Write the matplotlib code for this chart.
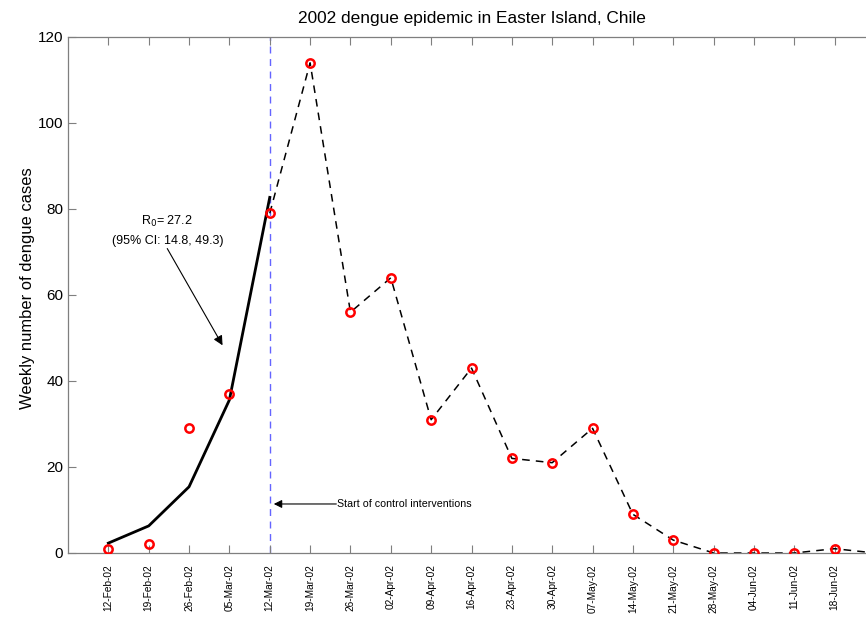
import matplotlib
matplotlib.use("Agg")
import matplotlib.pyplot as plt

plt.rcParams['font.family'] = ['Liberation Sans', 'DejaVu Sans']

# Weekly reporting dates (week starting)
weeks = ["12-Feb-02", "19-Feb-02", "26-Feb-02", "05-Mar-02", "12-Mar-02",
         "19-Mar-02", "26-Mar-02", "02-Apr-02", "09-Apr-02", "16-Apr-02",
         "23-Apr-02", "30-Apr-02", "07-May-02", "14-May-02", "21-May-02",
         "28-May-02", "04-Jun-02", "11-Jun-02", "18-Jun-02", "25-Jun-02"]

# Observed weekly dengue cases
cases = [1, 2, 29, 37, 79, 114, 56, 64, 31, 43, 22, 21, 29, 9, 3, 0, 0, 0, 1, 0]

# Exponential growth fit over the early phase (first 5 weeks)
fit_weeks = 5
fit_cases = [2.3, 6.3, 15.4, 35.6, 82.7]

# Week index when control interventions started
control_week = 4

idx = list(range(len(weeks)))

fig = plt.figure(figsize=(8.66, 6.27), dpi=100)
ax = fig.add_axes([68 / 866, 74 / 627, 807 / 866, 516 / 627])

grey = '#7f7f7f'

# fitted curve
ax.plot(idx[:fit_weeks], fit_cases, color='black', lw=2.0, zorder=3)
# observed cases after the start of interventions
ax.plot(idx[control_week:], cases[control_week:], color='black', lw=1.1,
        dashes=(5, 4), zorder=2)
# observed cases
ax.plot(idx, cases, linestyle='none', marker='o', markersize=6,
        markerfacecolor='none', markeredgecolor='red', markeredgewidth=1.8,
        zorder=4)
# start of control interventions
ax.axvline(control_week, color='#6464ff', lw=1.0, dashes=(5, 4), zorder=1)

ax.set_xlim(-1, 19)
ax.set_ylim(0, 120)
ax.set_yticks(range(0, 121, 20))
# the last week sits on the right edge of the axes and carries no label
ax.set_xticks(idx[:-1])
ax.set_xticklabels(weeks[:-1], rotation=90, fontsize=7.3)
ax.tick_params(axis='y', labelsize=11)
ax.tick_params(which='both', direction='in', color=grey, length=6,
               top=True, right=True, width=0.8)
ax.tick_params(axis='x', pad=8)
for s in ax.spines.values():
    s.set_color(grey)
    s.set_linewidth(0.9)

ax.set_ylabel('Weekly number of dengue cases', fontsize=11.9)
ax.yaxis.set_label_coords(-0.041, 0.514)
ax.set_title('2002 dengue epidemic in Easter Island, Chile', fontsize=12.4,
             pad=10)

# R0 annotation
ax.annotate('', xy=(2.83, 48.3), xytext=(1.46, 70.8),
            arrowprops=dict(arrowstyle='-|>', color='black', lw=0.8,
                            mutation_scale=14, shrinkA=0, shrinkB=0))
ax.text(1.46, 77.2, r'R$_0$= 27.2', ha='center', va='center', fontsize=9.0)
ax.text(1.46, 72.5, '(95% CI: 14.8, 49.3)', ha='center', va='center',
        fontsize=9.0)

# control interventions annotation
ax.annotate('', xy=(control_week + 0.1, 11.4), xytext=(5.65, 11.4),
            arrowprops=dict(arrowstyle='-|>', color='black', lw=0.8,
                            mutation_scale=12, shrinkA=0, shrinkB=0))
ax.text(5.67, 11.4, 'Start of control interventions', ha='left',
        va='center', fontsize=7.65)

fig.savefig('out.png', dpi=100)
